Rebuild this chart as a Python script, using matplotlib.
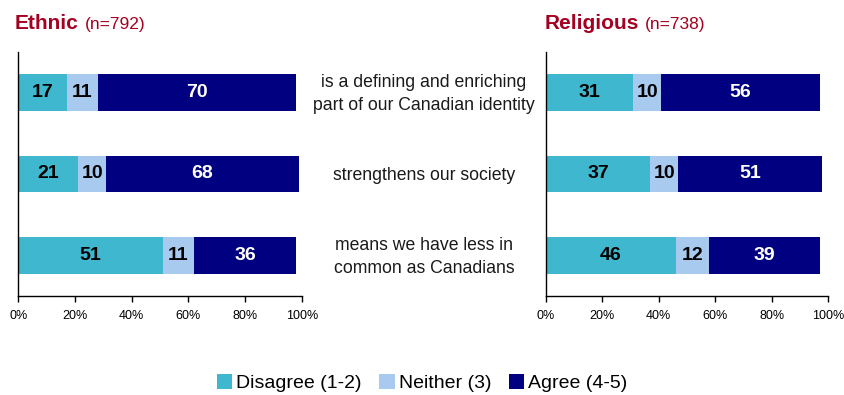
import matplotlib
matplotlib.use("Agg")
import matplotlib.pyplot as plt
from matplotlib.patches import Patch
from matplotlib.transforms import blended_transform_factory

plt.rcParams['font.family'] = ['Liberation Sans', 'DejaVu Sans']

statements = [
    "is a defining and enriching\npart of our Canadian identity",
    "strengthens our society",
    "means we have less in\ncommon as Canadians",
]
series = ["Disagree (1-2)", "Neither (3)", "Agree (4-5)"]
colors = ["#3FB7CE", "#A9CAEF", "#000080"]
label_colors = ["black", "black", "white"]

ethnic = {
    "Disagree (1-2)": [17, 21, 51],
    "Neither (3)": [11, 10, 11],
    "Agree (4-5)": [70, 68, 36],
}
religious = {
    "Disagree (1-2)": [31, 37, 46],
    "Neither (3)": [10, 10, 12],
    "Agree (4-5)": [56, 51, 39],
}
panels = [("Ethnic", "(n=792)", ethnic), ("Religious", "(n=738)", religious)]
xticks = [0, 20, 40, 60, 80, 100]
xticklabels = ["0%", "20%", "40%", "60%", "80%", "100%"]

W, H = 844, 395
fig = plt.figure(figsize=(W / 100, H / 100), dpi=100)
axes = [fig.add_axes([0.0219, 0.2506, 0.3356, 0.6178]),
        fig.add_axes([0.6466, 0.2506, 0.3345, 0.6178])]
title_x = [15, 545]
red = "#A50021"
renderer = fig.canvas.get_renderer()

for ax, (name, n, data), tx in zip(axes, panels, title_x):
    left = [0] * len(statements)
    for s, c, lc in zip(series, colors, label_colors):
        vals = data[s]
        ax.barh(range(len(statements)), vals, left=left, height=0.45,
                color=c, edgecolor="none")
        for i, v in enumerate(vals):
            ax.text(left[i] + v / 2, i, str(v), ha="center", va="center",
                    color=lc, fontsize=14, fontweight="bold")
        left = [a + b for a, b in zip(left, vals)]
    ax.set_xlim(0, 100)
    ax.set_ylim(2.5, -0.5)
    ax.set_xticks(xticks)
    ax.set_xticklabels(xticklabels, fontsize=9)
    ax.set_yticks([])
    ax.tick_params(axis="x", direction="out", length=4, width=1, pad=6)
    for sp in ["top", "right"]:
        ax.spines[sp].set_visible(False)
    for sp in ["left", "bottom"]:
        ax.spines[sp].set_color("black")
        ax.spines[sp].set_linewidth(1)
    # bold panel name, sample size right after it
    t = fig.text(tx / W, 1 - 29 / H, name, color=red, fontsize=15,
                 fontweight="bold", va="baseline", ha="left")
    x1 = t.get_window_extent(renderer).x1
    fig.text((x1 + 6) / W, 1 - 29 / H, n, color=red, fontsize=12.5,
             va="baseline", ha="left")

trans = blended_transform_factory(fig.transFigure, axes[0].transData)
for i, s in enumerate(statements):
    axes[0].text(424 / W, i + 0.02, s, transform=trans, ha="center",
                 va="center", fontsize=12.7, color="#1a1a1a", linespacing=1.45,
                 clip_on=False)

handles = [Patch(facecolor=c, edgecolor="none") for c in colors]
fig.legend(handles, series, loc="center", bbox_to_anchor=(0.5, 1 - 383 / H),
           ncol=3, frameon=False, fontsize=14, handlelength=0.8,
           handleheight=0.8, handletextpad=0.2, columnspacing=0.9)

fig.savefig("out.png", dpi=100)
